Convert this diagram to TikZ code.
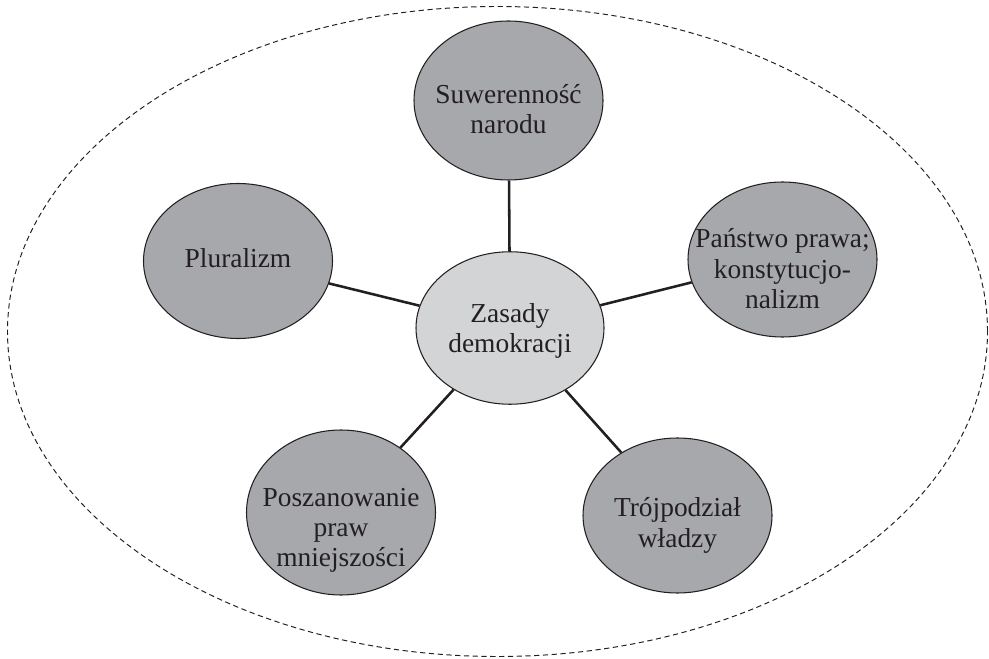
\documentclass[tikz,border=0pt]{standalone}
\usepackage{fontspec}
\setmainfont{Liberation Serif}
\usepackage{tikz}
\usetikzlibrary{shapes.geometric}
\definecolor{outgray}{RGB}{167,168,171}
\definecolor{ingray}{RGB}{211,212,214}
\definecolor{ink}{RGB}{35,31,32}
\tikzset{
  zasada/.style={ellipse,draw=ink,line width=0.6pt,fill=outgray,text=ink,align=center,
    inner xsep=-0.5cm,inner ysep=0pt,minimum width=3.78cm,minimum height=3.1cm,
    text depth=0pt,font=\fontsize{15.6}{17.3}\selectfont},
  srodek/.style={zasada,fill=ingray,minimum width=3.76cm,minimum height=3.05cm},
  laczy/.style={ink,line width=1.45pt}
}

\begin{document}
\begin{tikzpicture}
  \useasboundingbox (0,0) rectangle (19.78,13.16);
  \draw[ink,line width=0.55pt,dash pattern=on 3pt off 2pt] (9.95,6.53) ellipse [x radius=9.8cm, y radius=6.5cm];
  \node[srodek,text height=28pt] (zasady) at (10.2,6.6) {Zasady\\demokracji};
  \node[zasada,minimum height=3.18cm,text height=38pt] (suwer) at (10.17,11.15) {Suwerenność\\narodu};
  \node[zasada,text height=7pt] (plural) at (4.76,7.94) {Pluralizm};
  \node[zasada,text height=56pt] (panstwo) at (15.65,7.97) {Państwo prawa;\\konstytucjo-\\nalizm};
  \node[zasada,minimum height=3.3cm,text height=62pt] (mniejsz) at (6.82,2.91) {Poszanowanie\\praw\\mniejszości};
  \node[zasada,text height=36pt] (trojpodz) at (13.55,2.85) {Trójpodział\\władzy};
  \draw[laczy] (zasady) -- (suwer);
  \draw[laczy] (zasady) -- (plural);
  \draw[laczy] (zasady) -- (panstwo);
  \draw[laczy] (zasady) -- (mniejsz);
  \draw[laczy] (zasady) -- (trojpodz);
\end{tikzpicture}
\end{document}
